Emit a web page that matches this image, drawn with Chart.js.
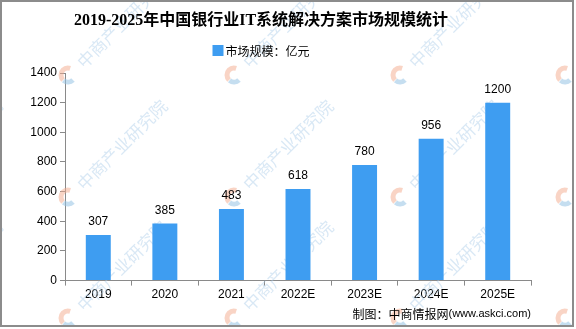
<!DOCTYPE html>
<html>
<head>
<meta charset="utf-8">
<script src="https://cdn.jsdelivr.net/npm/chart.js@4"></script>
<style>
  html, body { margin: 0; padding: 0; background: #fff; }
  #wrap { width: 576px; height: 329px; }
</style>
</head>
<body>
<div id="wrap"><canvas id="marketChart" width="576" height="329"></canvas></div>
<script>
const years = ["2019", "2020", "2021", "2022E", "2023E", "2024E", "2025E"];
const marketSize = [307, 385, 483, 618, 780, 956, 1200];
const seriesName = "市场规模：亿元";
const titleText = "2019-2025年中国银行业IT系统解决方案市场规模统计";
const sourceCn = "制图：中商情报网";
const sourceUrl = "(www.askci.com)";
const watermarkText = "中商产业研究院";

const barColor = "#3e9df1";
const axisColor = "#8a8a8a";
const cjk = "'Noto Sans CJK SC', sans-serif";
const latin = "'Liberation Sans', Arial, sans-serif";

// --- fond blanc + cadre gris ---
const framePlugin = {
  id: "frame",
  beforeDraw(chart) {
    const ctx = chart.ctx;
    ctx.save();
    ctx.fillStyle = "#fff";
    ctx.fillRect(0, 0, chart.width, chart.height);
    ctx.strokeStyle = "#8c8c8c";
    ctx.lineWidth = 2;
    ctx.strokeRect(1, 1, 572, 325);
    ctx.restore();
  },
};

// --- filigrane (logo + texte en diagonale) ---
const watermark = {
  id: "watermark",
  beforeDatasetsDraw(chart) {
    const ctx = chart.ctx;
    ctx.save();
    ctx.beginPath();
    ctx.rect(2, 2, 570, 323);
    ctx.clip();
    [-97, 68, 234, 400, 565].forEach((x) => {
      [75, 197, 318].forEach((y) => {
        ctx.lineWidth = 5;
        ctx.strokeStyle = "rgba(243, 170, 140, 0.5)";
        ctx.beginPath();
        ctx.arc(x, y, 7, Math.PI * 0.75, Math.PI * 1.6);
        ctx.stroke();
        ctx.strokeStyle = "rgba(150, 195, 228, 0.55)";
        ctx.beginPath();
        ctx.arc(x, y, 7, Math.PI * 0.25, Math.PI * 0.72);
        ctx.stroke();
        ctx.save();
        ctx.translate(x + 12, y - 10);
        ctx.rotate(-Math.PI / 4);
        ctx.fillStyle = "rgba(170, 205, 232, 0.45)";
        ctx.font = "17px " + cjk;
        ctx.textBaseline = "middle";
        ctx.textAlign = "left";
        ctx.fillText(watermarkText, 0, 0);
        ctx.restore();
      });
    });
    ctx.restore();
  },
};

// --- titre, légende, source, valeurs ---
const textPlugin = {
  id: "texts",
  afterDraw(chart) {
    const ctx = chart.ctx;
    const meta = chart.getDatasetMeta(0);
    ctx.save();

    ctx.fillStyle = "#000";
    ctx.textAlign = "center";
    ctx.textBaseline = "middle";
    ctx.font = "bold 16px 'Liberation Serif', " + cjk;
    ctx.fillText(titleText, 261, 21);

    // légende
    ctx.font = "12px " + cjk;
    const lw = ctx.measureText(seriesName).width;
    const lx = 261 - (lw + 13) / 2;
    ctx.fillStyle = barColor;
    ctx.fillRect(lx, 45, 11, 11);
    ctx.fillStyle = "#000";
    ctx.textAlign = "left";
    ctx.fillText(seriesName, lx + 13, 51);

    // source
    ctx.textAlign = "right";
    ctx.font = "11px " + latin;
    const uw = ctx.measureText(sourceUrl).width;
    ctx.fillText(sourceUrl, 531, 314);
    ctx.font = "12px " + cjk;
    ctx.fillText(sourceCn, 531 - uw, 314);

    // valeurs
    ctx.textAlign = "center";
    ctx.font = "12px " + latin;
    meta.data.forEach((bar, i) => {
      ctx.fillText(String(marketSize[i]), bar.x, bar.y - 13);
    });
    ctx.restore();
  },
};

new Chart(document.getElementById("marketChart"), {
  type: "bar",
  data: {
    labels: years,
    datasets: [
      {
        label: seriesName,
        data: marketSize,
        backgroundColor: barColor,
        categoryPercentage: 1,
        barPercentage: 0.375,
      },
    ],
  },
  options: {
    responsive: false,
    animation: false,
    devicePixelRatio: 1,
    layout: { padding: { left: 0, right: 45, top: 73, bottom: 25 } },
    plugins: {
      title: { display: false },
      legend: { display: false },
      tooltip: { enabled: false },
    },
    scales: {
      x: {
        grid: {
          display: true,
          drawOnChartArea: false,
          color: axisColor,
          tickLength: 5,
          offset: true,
        },
        border: { color: axisColor, width: 1 },
        ticks: {
          color: "#000",
          font: { family: latin, size: 12 },
          padding: 2,
          maxRotation: 0,
        },
      },
      y: {
        min: 0,
        max: 1400,
        afterFit(scale) {
          scale.width = 65;
        },
        grid: {
          display: true,
          drawOnChartArea: false,
          color: axisColor,
          tickLength: 5,
        },
        border: { color: axisColor, width: 1 },
        ticks: {
          stepSize: 200,
          color: "#000",
          font: { family: latin, size: 12 },
          padding: 3,
          callback: (v) => String(v),
        },
      },
    },
  },
  plugins: [framePlugin, watermark, textPlugin],
});
</script>
</body>
</html>
